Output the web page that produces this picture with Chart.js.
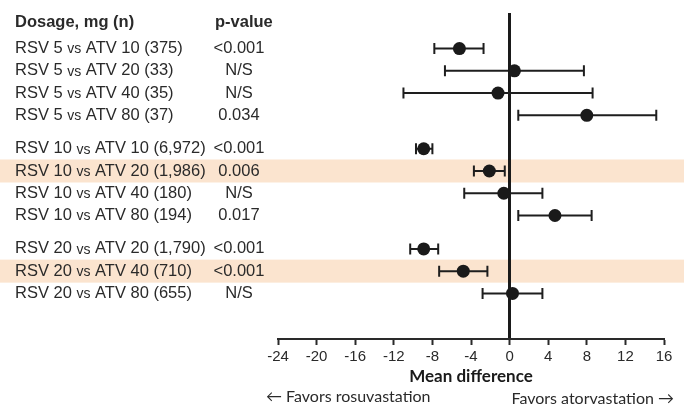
<!DOCTYPE html>
<html>
<head>
<meta charset="utf-8">
<script src="https://cdn.jsdelivr.net/npm/chart.js@4.4.0/dist/chart.umd.min.js"></script>
<style>
  html, body { margin: 0; padding: 0; background: #fff; }
  #chart { display: block; }
</style>
</head>
<body>
<canvas id="chart" width="684" height="416"></canvas>
<script>
// ── Data ──
const comparisons = [
  'RSV 5 vs ATV 10 (375)', 'RSV 5 vs ATV 20 (33)', 'RSV 5 vs ATV 40 (35)', 'RSV 5 vs ATV 80 (37)',
  'RSV 10 vs ATV 10 (6,972)', 'RSV 10 vs ATV 20 (1,986)', 'RSV 10 vs ATV 40 (180)', 'RSV 10 vs ATV 80 (194)',
  'RSV 20 vs ATV 20 (1,790)', 'RSV 20 vs ATV 40 (710)', 'RSV 20 vs ATV 80 (655)'
];
const pValues = ['<0.001', 'N/S', 'N/S', '0.034', '<0.001', '0.006', 'N/S', '0.017', '<0.001', '<0.001', 'N/S'];
const rowPos = [0, 1, 2, 3, 4.5, 5.5, 6.5, 7.5, 9, 10, 11];
const meanDiff = [-5.2, 0.5, -1.2, 8.0, -8.9, -2.1, -0.6, 4.7, -8.9, -4.8, 0.3];
const ciLow = [-7.8, -6.7, -11.0, 0.9, -9.7, -3.7, -4.7, 0.9, -10.3, -7.3, -2.8];
const ciHigh = [-2.7, 7.7, 8.6, 15.2, -8.0, -0.5, 3.4, 8.5, -7.4, -2.3, 3.4];
const highlightRows = [5, 9];
const xMin = -24, xMax = 16, xStep = 4;

const INK = '#2a2a2a';
const SANS = '"Liberation Sans", Arial, sans-serif';

// ── Tábla + hibasávok rajzolása ──
const forestPlugin = {
  id: 'forest',
  beforeDraw(chart) {
    const { ctx, width } = chart;
    const y = chart.scales.y;
    ctx.save();
    ctx.fillStyle = '#fff';
    ctx.fillRect(0, 0, width, chart.height);
    ctx.fillStyle = '#fbe4cf';
    highlightRows.forEach(i => {
      const py = y.getPixelForValue(rowPos[i]);
      ctx.fillRect(0, py - 11.5, width, 23);
    });
    ctx.restore();
  },
  beforeDatasetsDraw(chart) {
    const { ctx } = chart;
    const x = chart.scales.x, y = chart.scales.y;
    ctx.save();
    ctx.strokeStyle = '#1e1e1e';
    ctx.lineWidth = 2;
    rowPos.forEach((p, i) => {
      const py = y.getPixelForValue(p);
      const x1 = x.getPixelForValue(ciLow[i]);
      const x2 = x.getPixelForValue(ciHigh[i]);
      ctx.beginPath();
      ctx.moveTo(x1, py); ctx.lineTo(x2, py);
      ctx.moveTo(x1, py - 5.5); ctx.lineTo(x1, py + 5.5);
      ctx.moveTo(x2, py - 5.5); ctx.lineTo(x2, py + 5.5);
      ctx.stroke();
    });
    ctx.restore();
  },
  afterDraw(chart) {
    const { ctx, chartArea } = chart;
    const y = chart.scales.y;
    ctx.save();
    ctx.fillStyle = INK;
    ctx.textBaseline = 'middle';

    // fejléc
    ctx.font = 'bold 16.5px ' + SANS;
    ctx.textAlign = 'left';
    ctx.fillText('Dosage, mg (n)', 15, 22);
    ctx.fillText('p-value', 215, 22);

    // sorok
    rowPos.forEach((p, i) => {
      const py = y.getPixelForValue(p);
      const parts = comparisons[i].split(' vs ');
      let cx = 15;
      ctx.textAlign = 'left';
      ctx.font = '16.5px ' + SANS;
      ctx.fillText(parts[0] + ' ', cx, py);
      cx += ctx.measureText(parts[0] + ' ').width;
      ctx.font = '14px ' + SANS;
      ctx.fillText('vs', cx, py + 1);
      cx += ctx.measureText('vs').width;
      ctx.font = '16.5px ' + SANS;
      ctx.fillText(' ' + parts[1], cx, py);

      ctx.textAlign = 'center';
      ctx.fillText(pValues[i], 239, py);
    });

    // tengelycím és magyarázat
    const mid = (chartArea.left + chartArea.right) / 2;
    ctx.textAlign = 'center';
    ctx.font = 'bold 17px Lato, "Open Sans", sans-serif';
    ctx.fillStyle = '#1a1a1a';
    ctx.fillText('Mean difference', mid, 377);
    ctx.font = '16px Lato, "Open Sans", sans-serif';
    ctx.fillStyle = INK;
    ctx.textAlign = 'left';
    ctx.fillText('\u2190 Favors rosuvastation', 266, 397);
    ctx.textAlign = 'right';
    ctx.fillText('Favors atorvastation \u2192', 674, 399);
    ctx.restore();
  }
};

new Chart(document.getElementById('chart'), {
  type: 'scatter',
  data: {
    datasets: [{
      data: meanDiff.map((m, i) => ({ x: m, y: rowPos[i] })),
      pointRadius: 6.5,
      pointHoverRadius: 6.5,
      backgroundColor: '#1a1a1a',
      borderWidth: 0
    }]
  },
  options: {
    responsive: false,
    animation: false,
    devicePixelRatio: 1,
    layout: { padding: { left: 278, right: 20, top: 13, bottom: 0 } },
    plugins: {
      legend: { display: false },
      tooltip: { enabled: false }
    },
    scales: {
      x: {
        type: 'linear',
        min: xMin,
        max: xMax,
        afterFit: s => { s.height = 77; },
        ticks: {
          stepSize: xStep,
          color: '#2a2a2a',
          font: { family: SANS, size: 15 },
          padding: 3
        },
        grid: {
          drawOnChartArea: true,
          color: c => (c.tick && c.tick.value === 0) ? '#1a1a1a' : 'rgba(0,0,0,0)',
          lineWidth: c => (c.tick && c.tick.value === 0) ? 3 : 1,
          tickColor: '#2a2a2a',
          tickWidth: 2,
          tickLength: 6
        },
        border: { display: true, color: '#2a2a2a', width: 2 }
      },
      y: {
        display: false,
        min: -1.6,
        max: 13.05,
        reverse: true
      }
    }
  },
  plugins: [forestPlugin]
});
</script>
</body>
</html>
